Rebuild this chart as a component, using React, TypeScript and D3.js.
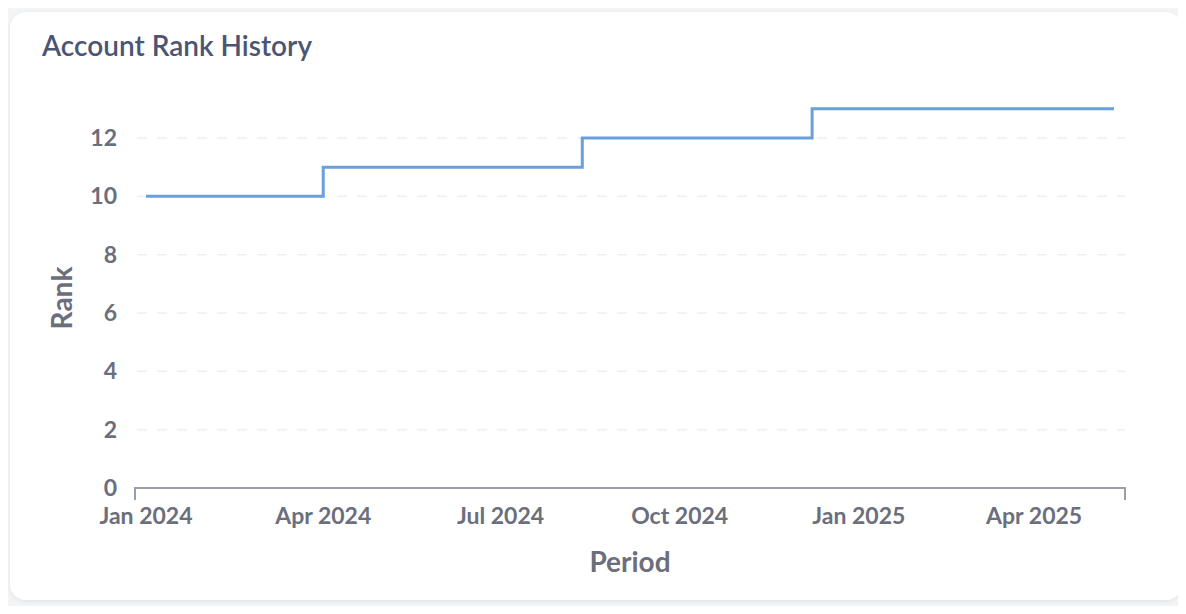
import React from "react";
import * as d3 from "d3";

const periods = ["2024-01-01", "2024-04-01", "2024-08-12", "2024-12-08", "2025-05-12"];
const ranks = [10, 11, 12, 13, 13];
const xTickLabels = ["Jan 2024", "Apr 2024", "Jul 2024", "Oct 2024", "Jan 2025", "Apr 2025"];
const xTickDates = ["2024-01-01", "2024-04-01", "2024-07-01", "2024-10-01", "2025-01-01", "2025-04-01"];
const yTicks = [0, 2, 4, 6, 8, 10, 12];

const W = 1186;
const H = 614;
const FONT = "Lato, 'Noto Sans', sans-serif";
const TEXT = "#6b6e7c";

export default function App() {
  const parse = d3.timeParse("%Y-%m-%d");
  const data = periods.map((p, i) => ({ d: parse(p) as Date, v: ranks[i] }));
  const axisLeft = 135;
  const axisRight = 1125;
  const axisY = 488;
  const x = d3
    .scaleTime()
    .domain(d3.extent(data, (e) => e.d) as [Date, Date])
    .range([axisLeft + 11, axisRight - 11]);
  const y = d3.scaleLinear().domain([0, 13]).range([axisY, 108.8]);
  const line = d3
    .line<{ d: Date; v: number }>()
    .x((e) => x(e.d))
    .y((e) => y(e.v))
    .curve(d3.curveStepAfter);

  return (
    <div style={{ margin: -8, width: W, height: H, background: "#f3f4f6", position: "relative", overflow: "hidden" }}>
      <svg width={W} height={H} style={{ display: "block" }}>
        <defs>
          <filter id="sh" x="-5%" y="-5%" width="110%" height="110%">
            <feDropShadow dx="0" dy="1" stdDeviation="2" floodColor="#000" floodOpacity="0.08" />
          </filter>
        </defs>
        <rect x={10} y={-40} width={1172} height={42} rx={16} fill="#fff" filter="url(#sh)" />
        <rect x={10} y={12} width={1172} height={588} rx={16} fill="#fff" filter="url(#sh)" />
        <text x={42} y={56} fontFamily={FONT} fontSize={28} fontWeight={600} fill="#4b5573">
          Account Rank History
        </text>
        {yTicks.map((t) => (
          <g key={t}>
            {t > 0 && (
              <line
                x1={137}
                x2={axisRight}
                y1={y(t)}
                y2={y(t)}
                stroke="#efefef"
                strokeWidth={1.5}
                strokeDasharray="10 10"
              />
            )}
            <text
              x={117}
              y={y(t)}
              dy="0.35em"
              textAnchor="end"
              fontFamily={FONT}
              fontSize={23}
              fontWeight={700}
              fill={TEXT}
            >
              {t}
            </text>
          </g>
        ))}
        <path
          d={`M${axisLeft},${axisY + 12}V${axisY}H${axisRight}V${axisY + 12}`}
          fill="none"
          stroke="#9a9dab"
          strokeWidth={2}
        />
        {xTickDates.map((dt, i) => (
          <text
            key={dt}
            x={x(parse(dt) as Date)}
            y={524}
            textAnchor="middle"
            fontFamily={FONT}
            fontSize={23}
            fontWeight={700}
            fill={TEXT}
          >
            {xTickLabels[i]}
          </text>
        ))}
        <path d={line(data) || ""} fill="none" stroke="#6a9fde" strokeWidth={3} />
        <text
          transform={`translate(72,298) rotate(-90)`}
          textAnchor="middle"
          fontFamily={FONT}
          fontSize={28}
          fontWeight={700}
          fill={TEXT}
        >
          Rank
        </text>
        <text x={630} y={572} textAnchor="middle" fontFamily={FONT} fontSize={28} fontWeight={700} fill={TEXT}>
          Period
        </text>
      </svg>
    </div>
  );
}
